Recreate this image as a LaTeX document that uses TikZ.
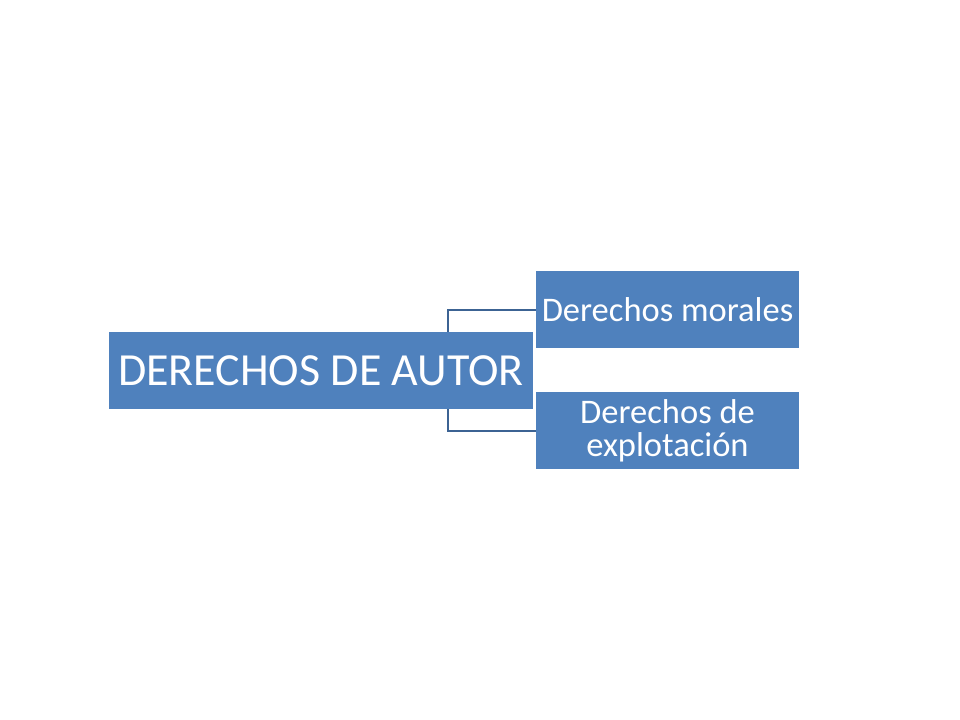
\documentclass[tikz,border=0pt]{standalone}
\usepackage{fontspec}
\setmainfont{Carlito}
\definecolor{boxblue}{HTML}{4F81BD}
\definecolor{lineblue}{HTML}{3C6393}
\tikzset{
    box/.style={rectangle, fill=boxblue, text=white, inner sep=0pt, align=center},
    conn/.style={draw=lineblue, line width=2bp}
}
\begin{document}
\begin{tikzpicture}[x=1bp,y=-1bp]
        \useasboundingbox (0,0) rectangle (960,720);
        \node [box, minimum width=424bp, minimum height=77bp, font=\fontsize{46bp}{50bp}\selectfont] (autor) at (321,370.5) {DERECHOS DE AUTOR};
        \node [box, minimum width=263bp, minimum height=77bp, font=\fontsize{34.5bp}{38bp}\selectfont] (morales) at (667.5,309.5) {Derechos morales};
        \node [box, minimum width=263bp, minimum height=77bp, font=\fontsize{34.5bp}{33bp}\selectfont] (explot) at (667.5,430.5) {\raisebox{-2bp}{Derechos de}\\\raisebox{-2bp}{explotación}};
        \draw [conn] ([xshift=-85bp]autor.north east) |- (morales.west);
        \draw [conn] ([xshift=-85bp]autor.south east) |- (explot.west);
    \end{tikzpicture}
\end{document}
